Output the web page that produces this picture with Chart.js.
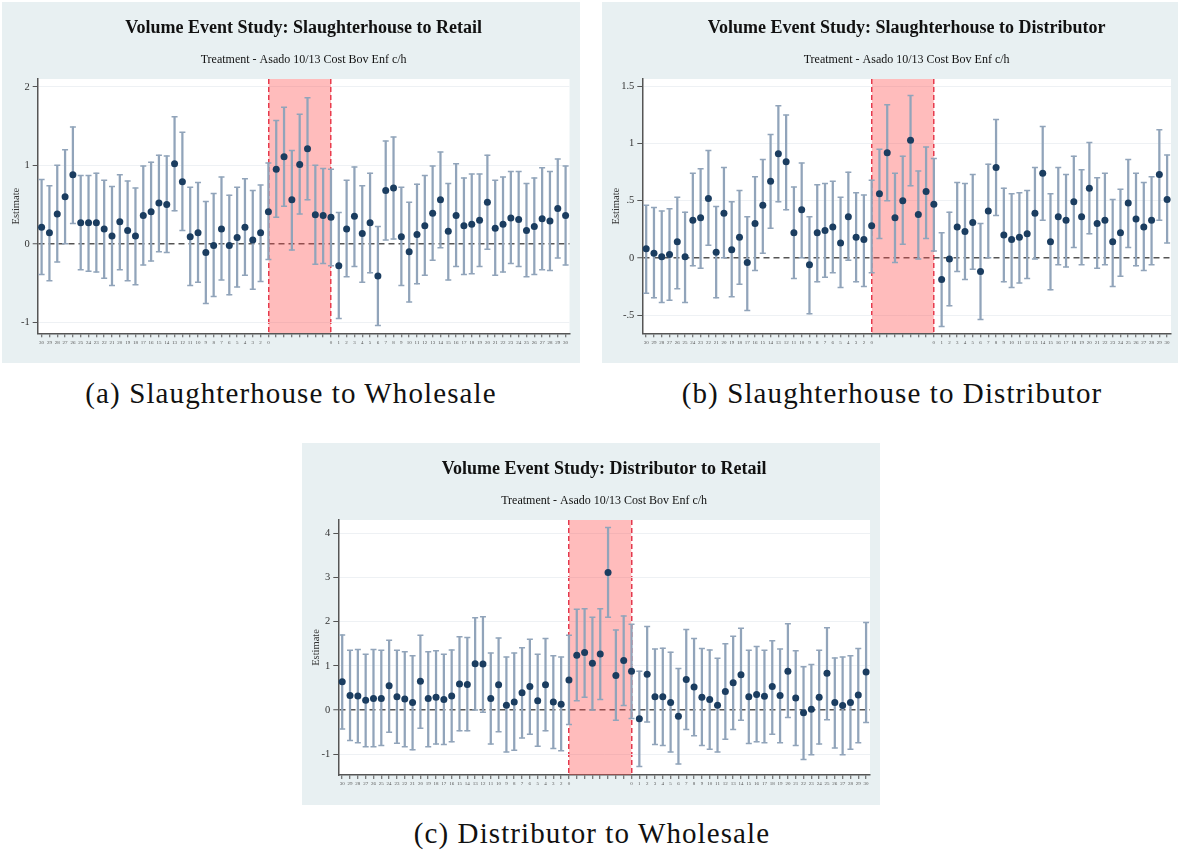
<!DOCTYPE html>
<html>
<head>
<meta charset="utf-8">
<script src="https://cdn.jsdelivr.net/npm/chart.js"></script>
<style>
  body { margin: 0; width: 1178px; height: 854px; background: #fff; position: relative; font-family: "Liberation Serif", serif; }
  .panel { position: absolute; background: #e8f0f2; }
  .caption { position: absolute; text-align: center; font-size: 29px; letter-spacing: 1.1px; color: #111; line-height: 30px; }
</style>
</head>
<body>
<div class="panel" style="left:2px;top:2px;width:578px;height:361px"><canvas id="chartA"></canvas></div>
<div class="panel" style="left:602px;top:2px;width:576px;height:361px"><canvas id="chartB"></canvas></div>
<div class="panel" style="left:302px;top:443px;width:578px;height:362px"><canvas id="chartC"></canvas></div>
<div class="caption" style="left:0;top:378px;width:582px">(a) Slaughterhouse to Wholesale</div>
<div class="caption" style="left:602px;top:378px;width:580px">(b) Slaughterhouse to Distributor</div>
<div class="caption" style="left:302px;top:818px;width:580px">(c) Distributor to Wholesale</div>
<script>
const xLabels = ['30','29','28','27','26','25','24','23','22','21','20','19','18','17','16','15','14','13','12','11','10','9','8','7','6','5','4','3','2','0',
  '','','','','','','',
  '0','1','2','3','4','5','6','7','8','9','10','11','12','13','14','15','16','17','18','19','20','21','22','23','24','25','26','27','28','29','30'];
// first and last index of the shaded treatment window
const eventStart = 29;
const eventEnd = 37;
const subtitle = 'Treatment - Asado 10/13 Cost Bov Enf c/h';

// (a) Slaughterhouse to Retail
const aEst = [0.21,0.14,0.38,0.60,0.88,0.27,0.27,0.27,0.19,0.10,0.28,0.17,0.10,0.36,0.41,0.52,0.50,1.02,0.79,0.09,0.14,-0.11,-0.02,0.19,-0.02,0.08,0.21,0.05,0.14,0.41,
  0.95,1.11,0.56,1.01,1.21,0.37,0.36,
  0.34,-0.28,0.19,0.35,0.13,0.27,-0.41,0.68,0.71,0.09,-0.10,0.12,0.23,0.39,0.56,0.16,0.36,0.23,0.25,0.30,0.53,0.20,0.25,0.33,0.31,0.17,0.22,0.32,0.29,0.45,0.36];
const aHi = [0.82,0.74,1.00,1.20,1.49,0.87,0.87,0.90,0.81,0.73,0.88,0.80,0.71,0.99,1.04,1.13,1.12,1.62,1.42,0.72,0.78,0.54,0.64,0.85,0.62,0.72,0.83,0.68,0.75,1.03,
  1.57,1.74,1.19,1.65,1.86,1.00,0.96,
  0.95,0.40,0.81,0.98,0.74,0.90,0.22,1.31,1.36,0.72,0.53,0.76,0.87,0.99,1.17,0.77,1.02,0.84,0.89,0.89,1.13,0.81,0.85,0.92,0.92,0.77,0.84,0.97,0.92,1.08,0.99];
const aLo = [-0.39,-0.47,-0.23,0.00,0.26,-0.33,-0.35,-0.36,-0.44,-0.53,-0.33,-0.47,-0.52,-0.27,-0.22,-0.10,-0.11,0.42,0.17,-0.53,-0.49,-0.76,-0.67,-0.46,-0.65,-0.55,-0.40,-0.58,-0.48,-0.20,
  0.34,0.48,-0.08,0.38,0.56,-0.26,-0.25,
  -0.28,-0.95,-0.42,-0.29,-0.49,-0.37,-1.04,0.05,0.06,-0.53,-0.74,-0.51,-0.40,-0.21,-0.05,-0.46,-0.29,-0.39,-0.38,-0.29,-0.07,-0.40,-0.36,-0.25,-0.29,-0.42,-0.39,-0.33,-0.34,-0.18,-0.27];
const aTicks = [-1, 0, 1, 2];
const aTickLabels = ['-1', '0', '1', '2'];

// (b) Slaughterhouse to Distributor
const bEst = [0.08,0.04,0.01,0.03,0.14,0.01,0.33,0.35,0.52,0.05,0.39,0.07,0.18,-0.04,0.30,0.46,0.67,0.91,0.84,0.22,0.42,-0.06,0.22,0.24,0.27,0.13,0.36,0.18,0.16,0.28,
  0.56,0.92,0.35,0.50,1.03,0.38,0.58,
  0.47,-0.19,-0.01,0.27,0.23,0.31,-0.12,0.41,0.79,0.20,0.16,0.18,0.21,0.39,0.74,0.14,0.36,0.33,0.49,0.36,0.61,0.30,0.33,0.14,0.22,0.48,0.34,0.27,0.33,0.73,0.51];
const bHi = [0.46,0.44,0.41,0.43,0.53,0.40,0.74,0.78,0.94,0.45,0.79,0.49,0.59,0.36,0.71,0.86,1.08,1.33,1.25,0.62,0.83,0.36,0.64,0.65,0.67,0.53,0.75,0.57,0.55,0.68,
  0.95,1.34,0.74,0.89,1.42,0.76,0.97,
  0.87,0.22,0.40,0.66,0.65,0.73,0.30,0.82,1.21,0.61,0.56,0.57,0.59,0.79,1.15,0.56,0.79,0.73,0.89,0.77,1.01,0.70,0.74,0.51,0.60,0.86,0.74,0.66,0.71,1.12,0.90];
const bLo = [-0.31,-0.35,-0.39,-0.37,-0.27,-0.39,-0.07,-0.09,0.11,-0.35,0.00,-0.34,-0.23,-0.46,-0.11,0.04,0.26,0.49,0.42,-0.18,0.00,-0.49,-0.21,-0.17,-0.13,-0.26,-0.02,-0.21,-0.25,-0.13,
  0.17,0.50,-0.04,0.12,0.63,-0.01,0.17,
  0.06,-0.60,-0.42,-0.12,-0.19,-0.10,-0.54,0.00,0.37,-0.21,-0.26,-0.22,-0.18,-0.01,0.33,-0.28,-0.06,-0.08,0.09,-0.06,0.21,-0.09,-0.06,-0.25,-0.16,0.09,-0.07,-0.11,-0.06,0.33,0.13];
const bTicks = [-0.5, 0, 0.5, 1, 1.5];
const bTickLabels = ['-.5', '0', '.5', '1', '1.5'];

// (c) Distributor to Retail
const cEst = [0.64,0.33,0.32,0.22,0.26,0.26,0.55,0.30,0.25,0.17,0.65,0.26,0.29,0.24,0.32,0.59,0.58,1.05,1.04,0.26,0.57,0.11,0.18,0.39,0.53,0.21,0.57,0.18,0.13,0.68,
  1.24,1.30,1.06,1.27,3.11,0.78,1.12,
  0.88,-0.20,0.81,0.30,0.30,0.17,-0.14,0.69,0.52,0.29,0.24,0.11,0.42,0.62,0.80,0.30,0.35,0.31,0.53,0.33,0.88,0.27,-0.06,0.02,0.29,0.83,0.17,0.10,0.17,0.34,0.86];
const cHi = [1.70,1.35,1.37,1.26,1.37,1.35,1.58,1.35,1.32,1.23,1.69,1.32,1.34,1.26,1.36,1.66,1.64,2.09,2.11,1.29,1.63,1.20,1.29,1.41,1.60,1.26,1.62,1.23,1.20,1.69,
  2.28,2.29,2.10,2.29,4.13,1.81,2.13,
  1.94,0.88,1.89,1.38,1.40,1.31,0.94,1.82,1.62,1.39,1.36,1.17,1.50,1.67,1.85,1.35,1.44,1.35,1.57,1.38,1.95,1.34,0.98,1.03,1.35,1.86,1.18,1.20,1.23,1.39,1.98];
const cLo = [-0.43,-0.69,-0.74,-0.83,-0.83,-0.80,-0.50,-0.75,-0.83,-0.90,-0.41,-0.83,-0.77,-0.78,-0.72,-0.47,-0.47,0.00,-0.05,-0.77,-0.49,-0.95,-0.91,-0.63,-0.55,-0.82,-0.47,-0.87,-0.92,-0.33,
  0.21,0.29,0.00,0.24,2.10,-0.23,0.10,
  -0.19,-1.28,-0.27,-0.78,-0.80,-0.95,-1.22,-0.44,-0.58,-0.80,-0.89,-0.95,-0.66,-0.44,-0.23,-0.76,-0.72,-0.74,-0.55,-0.74,-0.17,-0.80,-1.12,-1.01,-0.77,-0.22,-0.86,-1.01,-0.89,-0.74,-0.28];
const cTicks = [-1, 0, 1, 2, 3, 4];
const cTickLabels = ['-1', '0', '1', '2', '3', '4'];

const serif = '"Liberation Serif", "Times New Roman", serif';
const barColor = '#91a4ba';
const dotColor = '#1b3d60';

// white plotting region on the grey-blue panel
const whiteArea = {
  id: 'whiteArea',
  beforeDraw(chart) {
    const { ctx, chartArea } = chart;
    ctx.save();
    ctx.fillStyle = '#fff';
    ctx.fillRect(chartArea.left, chartArea.top, chartArea.right - chartArea.left, chartArea.bottom - chartArea.top);
    ctx.restore();
  }
};

function makeChart(id, title, est, lo, hi, yMin, yMax, yTicks, yTickLabels, box) {
  const ctx = document.getElementById(id).getContext('2d');
  return new Chart(ctx, {
    type: 'bar',
    data: {
      labels: xLabels,
      datasets: [
        {
          type: 'line',
          data: xLabels.map((l, i) => (i >= eventStart && i <= eventEnd ? yMax : null)),
          fill: 'start',
          backgroundColor: 'rgba(255,70,70,0.36)',
          borderWidth: 0,
          pointRadius: 0,
          order: 5
        },
        {
          type: 'bar',
          data: lo.map((v, i) => [v, hi[i]]),
          backgroundColor: barColor,
          barThickness: 1.6,
          order: 4
        },
        {
          type: 'line',
          data: hi,
          showLine: false,
          pointStyle: 'line',
          pointRadius: 3,
          borderColor: barColor,
          pointBorderColor: barColor,
          pointBorderWidth: 1.5,
          order: 3
        },
        {
          type: 'line',
          data: lo,
          showLine: false,
          pointStyle: 'line',
          pointRadius: 3,
          borderColor: barColor,
          pointBorderColor: barColor,
          pointBorderWidth: 1.5,
          order: 2
        },
        {
          type: 'line',
          data: est,
          showLine: false,
          pointRadius: 3.5,
          pointBackgroundColor: dotColor,
          pointBorderWidth: 0,
          order: 1
        }
      ]
    },
    options: {
      responsive: true,
      maintainAspectRatio: false,
      animation: false,
      events: [],
      layout: { padding: { left: 0, right: box.right, top: 0, bottom: 0 } },
      plugins: {
        legend: { display: false },
        tooltip: { enabled: false },
        title: {
          display: true,
          text: title,
          fullSize: false,
          color: '#111',
          font: { family: serif, size: 18, weight: 'bold' },
          padding: { top: 15.2, bottom: 14 }
        },
        subtitle: {
          display: true,
          text: subtitle,
          fullSize: false,
          color: '#111',
          font: { family: serif, size: 12 },
          padding: { top: 0, bottom: 11.8 }
        }
      },
      scales: {
        x: {
          type: 'category',
          offset: true,
          grid: {
            offset: false,
            color: c => (c.index === eventStart || c.index === eventEnd ? '#e2384f' : 'rgba(0,0,0,0)'),
            lineWidth: 1.5,
            tickColor: '#555',
            tickLength: 4,
            tickWidth: 1
          },
          border: { color: '#555', width: 1.5, dash: [5, 3] },
          ticks: {
            autoSkip: false,
            maxRotation: 0,
            minRotation: 0,
            color: '#555',
            padding: 2,
            font: { family: serif, size: 5 }
          },
          afterFit: s => { s.height = box.xh; }
        },
        y: {
          type: 'linear',
          min: yMin,
          max: yMax,
          afterBuildTicks: s => { s.ticks = yTicks.map(v => ({ value: v })); },
          ticks: {
            callback: v => yTickLabels[yTicks.indexOf(v)],
            color: '#333',
            padding: 3,
            font: { family: serif, size: 10.5 }
          },
          grid: {
            color: c => (c.tick && c.tick.value === 0 ? '#555' : '#eef1f4'),
            lineWidth: c => (c.tick && c.tick.value === 0 ? 1.5 : 1),
            tickColor: '#555',
            tickLength: 5,
            tickWidth: 1
          },
          border: { color: '#555', width: 1.5, dash: c => (c.tick && c.tick.value === 0 ? [6, 4] : []) },
          title: {
            display: true,
            text: 'Estimate',
            color: '#333',
            font: { family: serif, size: 10.5 },
            padding: { top: 7.7, bottom: 0 }
          },
          afterFit: s => { s.width = box.yw; }
        }
      }
    },
    plugins: [whiteArea]
  });
}

makeChart('chartA', 'Volume Event Study: Slaughterhouse to Retail', aEst, aLo, aHi, -1.14, 2.1, aTicks, aTickLabels,
  { yw: 35.7, xh: 29.7, right: 10.5 });
makeChart('chartB', 'Volume Event Study: Slaughterhouse to Distributor', bEst, bLo, bHi, -0.66, 1.565, bTicks, bTickLabels,
  { yw: 40.3, xh: 29.7, right: 7 });
makeChart('chartC', 'Volume Event Study: Distributor to Retail', cEst, cLo, cHi, -1.47, 4.3, cTicks, cTickLabels,
  { yw: 36.3, xh: 30, right: 10 });
</script>
</body>
</html>
